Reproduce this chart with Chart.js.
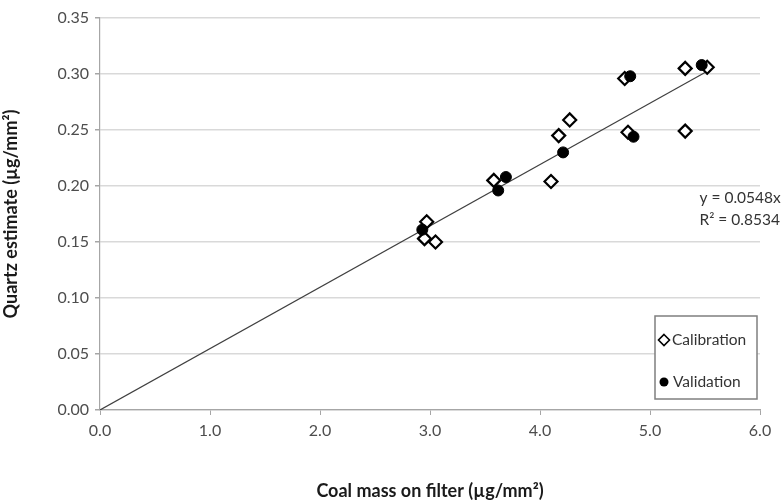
<!DOCTYPE html>
<html>
<head>
<meta charset="utf-8">
<script src="https://cdn.jsdelivr.net/npm/chart.js@4.4.0/dist/chart.umd.min.js"></script>
<style>
html,body{margin:0;padding:0;background:#fff;}
#wrap{width:781px;height:502px;position:relative;}
</style>
</head>
<body>
<div id="wrap"><canvas id="c" width="781" height="502"></canvas></div>
<script>
// ---- data ----
const calibrationX = [2.97, 2.95, 3.05, 3.58, 4.10, 4.17, 4.27, 4.77, 4.80, 5.32, 5.32, 5.52];
const calibrationY = [0.168, 0.153, 0.150, 0.205, 0.204, 0.245, 0.259, 0.296, 0.248, 0.305, 0.249, 0.306];
const validationX = [2.93, 3.62, 3.69, 4.21, 4.82, 4.85, 5.47];
const validationY = [0.161, 0.196, 0.208, 0.230, 0.298, 0.244, 0.308];
const trendX = [0, 5.5];
const trendY = [0, 0.3014];
const xTickLabels = ["0.0","1.0","2.0","3.0","4.0","5.0","6.0"];
const yTickLabels = ["0.00","0.05","0.10","0.15","0.20","0.25","0.30","0.35"];
const seriesNames = ["Calibration", "Validation"];
const equationText = ["y = 0.0548x", "R\u00b2 = 0.8534"];
const xTitle = "Coal mass on filter (\u00b5g/mm\u00b2)";
const yTitle = "Quartz estimate (\u00b5g/mm\u00b2)";

const toPts = (xs, ys) => xs.map((x, i) => ({x: x, y: ys[i]}));
const FONT = "Lato, 'Open Sans', sans-serif";

const overlay = {
  id: 'overlay',
  afterDatasetsDraw(chart) {
    const ctx = chart.ctx;
    const xs = chart.scales.x, ys = chart.scales.y;
    ctx.save();
    // equation text
    ctx.fillStyle = '#333333';
    ctx.font = "15.5px " + FONT;
    ctx.textAlign = 'left';
    ctx.textBaseline = 'middle';
    const ex = xs.getPixelForValue(5.45);
    ctx.fillText(equationText[0], ex, ys.getPixelForValue(0.1895));
    ctx.fillText(equationText[1], ex, ys.getPixelForValue(0.1700));
    // legend box
    const bx = 655, by = 316, bw = 102, bh = 83;
    ctx.fillStyle = '#fff';
    ctx.fillRect(bx, by, bw, bh);
    ctx.strokeStyle = '#7f7f7f';
    ctx.lineWidth = 1.5;
    ctx.strokeRect(bx, by, bw, bh);
    // calibration marker
    const d = 5.5;
    let cx = 664, cy = 340;
    ctx.beginPath();
    ctx.moveTo(cx, cy - d); ctx.lineTo(cx + d, cy); ctx.lineTo(cx, cy + d); ctx.lineTo(cx - d, cy); ctx.closePath();
    ctx.fillStyle = '#fff'; ctx.fill();
    ctx.strokeStyle = '#000'; ctx.lineWidth = 1.6; ctx.stroke();
    // validation marker
    cy = 382;
    ctx.beginPath(); ctx.arc(cx, cy, 4.5, 0, Math.PI * 2);
    ctx.fillStyle = '#000'; ctx.fill();
    ctx.fillStyle = '#333333';
    ctx.font = "15.5px " + FONT;
    ctx.fillText(seriesNames[0], 672, 340);
    ctx.fillText(seriesNames[1], 673, 382);
    ctx.restore();
  }
};

new Chart(document.getElementById('c'), {
  type: 'scatter',
  data: {
    datasets: [
      {
        label: 'Trend',
        type: 'line',
        data: toPts(trendX, trendY),
        borderColor: '#404040',
        borderWidth: 1.2,
        pointRadius: 0,
        fill: false,
        order: 3
      },
      {
        label: seriesNames[0],
        data: toPts(calibrationX, calibrationY),
        pointStyle: 'rectRot',
        pointRadius: 6.5,
        pointBackgroundColor: '#fff',
        pointBorderColor: '#000',
        pointBorderWidth: 2.2,
        order: 2
      },
      {
        label: seriesNames[1],
        data: toPts(validationX, validationY),
        pointStyle: 'circle',
        pointRadius: 5.5,
        pointBackgroundColor: '#000',
        pointBorderColor: '#000',
        pointBorderWidth: 1,
        order: 1
      }
    ]
  },
  options: {
    responsive: false,
    animation: false,
    layout: { padding: { top: 18, right: 21, left: 0, bottom: 0 } },
    plugins: { legend: { display: false }, tooltip: { enabled: false } },
    scales: {
      x: {
        type: 'linear',
        min: 0, max: 6,
        ticks: {
          stepSize: 1,
          color: '#4d4d4d',
          font: { family: FONT, size: 16 },
          padding: 6,
          callback: (v) => xTickLabels[Math.round(v)] ?? ''
        },
        grid: { drawOnChartArea: false, drawTicks: true, tickLength: 5, tickColor: '#a6a6a6' },
        border: { color: '#a6a6a6', width: 1.2 },
        title: {
          display: true, text: xTitle, color: '#1a1a1a',
          font: { family: FONT, size: 18, weight: 'bold' },
          padding: { top: 18, bottom: 0 }
        },
        afterFit(s) { s.height = 92; }
      },
      y: {
        type: 'linear',
        min: 0, max: 0.35,
        ticks: {
          stepSize: 0.05,
          color: '#4d4d4d',
          font: { family: FONT, size: 16 },
          padding: 6,
          callback: (v) => yTickLabels[Math.round(v / 0.05)] ?? ''
        },
        grid: { color: '#d9d9d9', lineWidth: 1.5, drawTicks: true, tickLength: 5, tickColor: '#a6a6a6' },
        border: { color: '#a6a6a6', width: 1.2 },
        title: {
          display: true, text: yTitle, color: '#1a1a1a',
          font: { family: FONT, size: 18, weight: 'bold' },
          padding: { top: 0, bottom: 6 }
        },
        afterFit(s) { s.width = 100; }
      }
    }
  },
  plugins: [overlay]
});
</script>
</body>
</html>
